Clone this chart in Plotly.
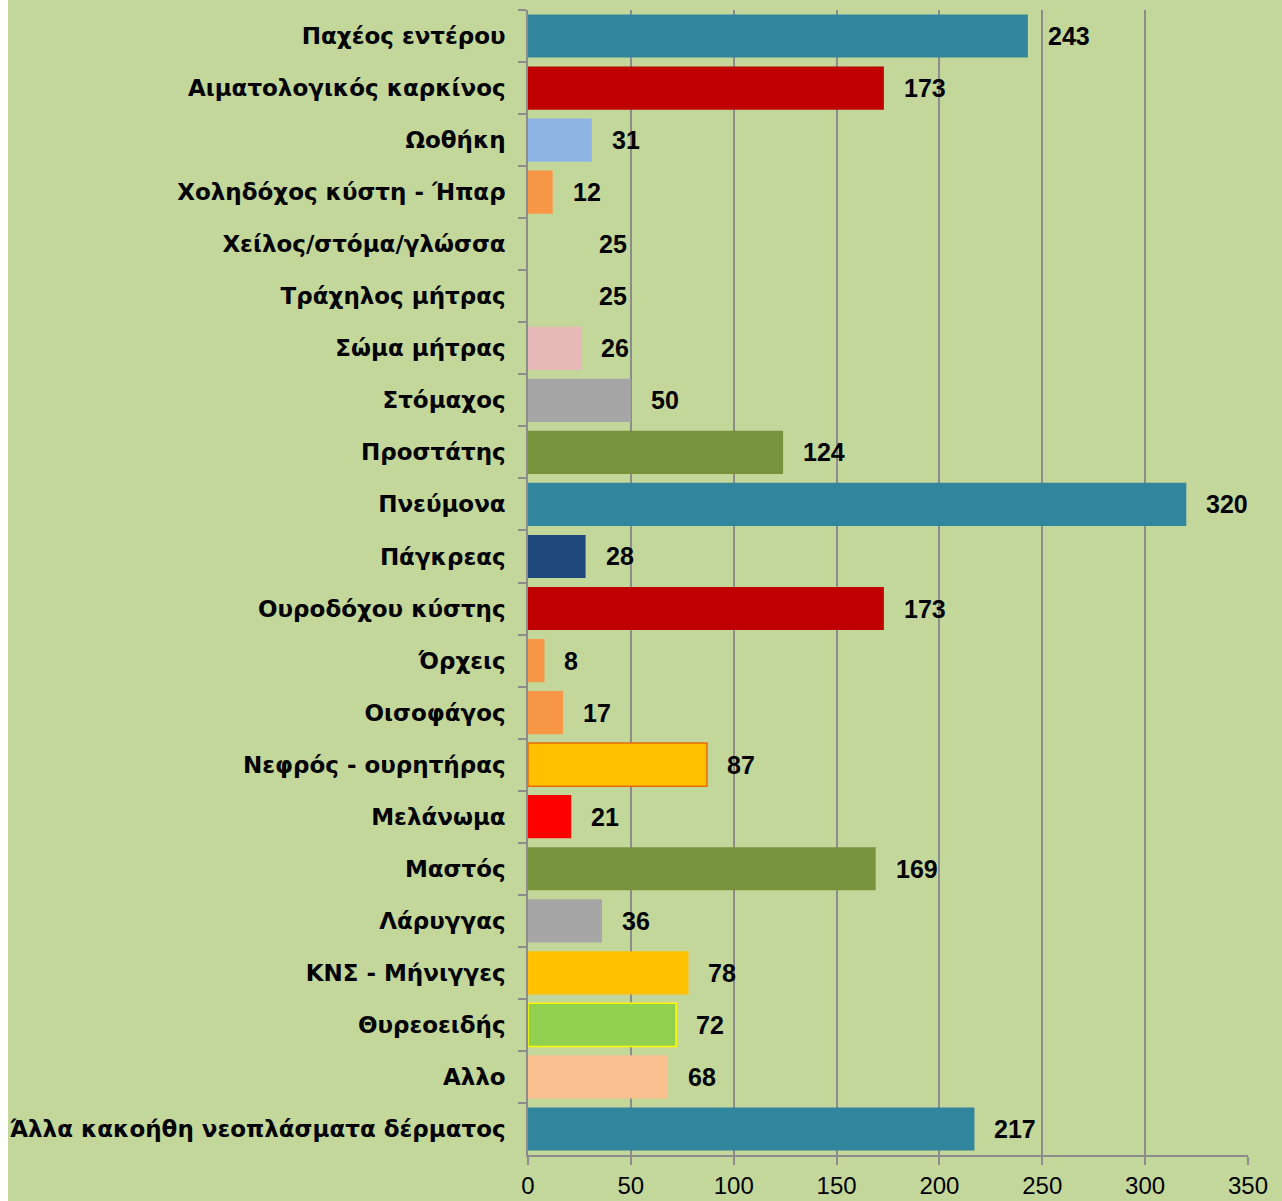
import plotly.graph_objects as go

categories = [
    "Παχέος εντέρου",
    "Αιματολογικός καρκίνος",
    "Ωοθήκη",
    "Χοληδόχος κύστη - Ήπαρ",
    "Χείλος/στόμα/γλώσσα",
    "Τράχηλος μήτρας",
    "Σώμα μήτρας",
    "Στόμαχος",
    "Προστάτης",
    "Πνεύμονα",
    "Πάγκρεας",
    "Ουροδόχου κύστης",
    "Όρχεις",
    "Οισοφάγος",
    "Νεφρός - ουρητήρας",
    "Μελάνωμα",
    "Μαστός",
    "Λάρυγγας",
    "ΚΝΣ - Μήνιγγες",
    "Θυρεοειδής",
    "Αλλο",
    "Άλλα κακοήθη νεοπλάσματα δέρματος",
]
values = [243, 173, 31, 12, 25, 25, 26, 50, 124, 320, 28, 173, 8, 17, 87, 21, 169, 36, 78, 72, 68, 217]

x_ticks = [0, 50, 100, 150, 200, 250, 300, 350]

bar_colors = [
    "#31859C", "#C00000", "#8DB4E2", "#F79646", "rgba(0,0,0,0)", "rgba(0,0,0,0)",
    "#E6B9B8", "#A6A6A6", "#77933C", "#31859C", "#1F497D", "#C00000",
    "#F79646", "#F79646", "#FFC000", "#FF0000", "#77933C", "#A6A6A6",
    "#FFC000", "#92D050", "#FAC090", "#31859C",
]
border_colors = ["rgba(0,0,0,0)"] * len(categories)
border_widths = [0] * len(categories)
border_colors[categories.index("Νεφρός - ουρητήρας")] = "#E46C0A"
border_widths[categories.index("Νεφρός - ουρητήρας")] = 1.5
border_colors[categories.index("Θυρεοειδής")] = "#FFFF00"
border_widths[categories.index("Θυρεοειδής")] = 1.5

BG = "#C4D79B"
GRID = "#8C8C8C"
FONT = "Liberation Sans, Arial, sans-serif"
LABEL_FONT = "DejaVu Sans, Verdana, sans-serif"

fig = go.Figure()
fig.add_trace(go.Bar(
    x=values,
    y=categories,
    orientation="h",
    marker=dict(color=bar_colors, line=dict(color=border_colors, width=border_widths)),
    hoverinfo="x+y",
))

for c, v in zip(categories, values):
    fig.add_annotation(
        x=v, y=c, text=str(v), showarrow=False,
        xanchor="left", xshift=18,
        font=dict(family=FONT, size=25, color="black", weight="bold"),
    )

fig.update_layout(
    width=1274, height=1201,
    paper_bgcolor=BG, plot_bgcolor=BG,
    margin=dict(l=520, r=34, t=10, b=46),
    bargap=0.17,
    showlegend=False,
    font=dict(family=FONT, color="black"),
    xaxis=dict(
        range=[0, 350], tickvals=x_ticks,
        showgrid=True, gridcolor=GRID, gridwidth=1.5,
        showline=True, linecolor=GRID, linewidth=1.5,
        ticks="outside", ticklen=8, tickcolor=GRID, tickwidth=1.5,
        ticklabelstandoff=0,
        tickfont=dict(size=24, color="black", family=FONT),
        zeroline=False, automargin=False,
    ),
    yaxis=dict(
        autorange="reversed", type="category",
        showgrid=False,
        showline=True, linecolor=GRID, linewidth=1.5,
        ticks="outside", ticklen=8, tickcolor=GRID, tickwidth=1.5,
        tickson="boundaries",
        ticklabelstandoff=16, automargin=False,
        tickfont=dict(size=23, color="black", family=LABEL_FONT, weight="bold"),
    ),
)

fig.write_html(
    "out.html",
    post_script="document.body.style.margin='0px 0px 0px 8px';document.body.style.overflow='hidden';",
)
